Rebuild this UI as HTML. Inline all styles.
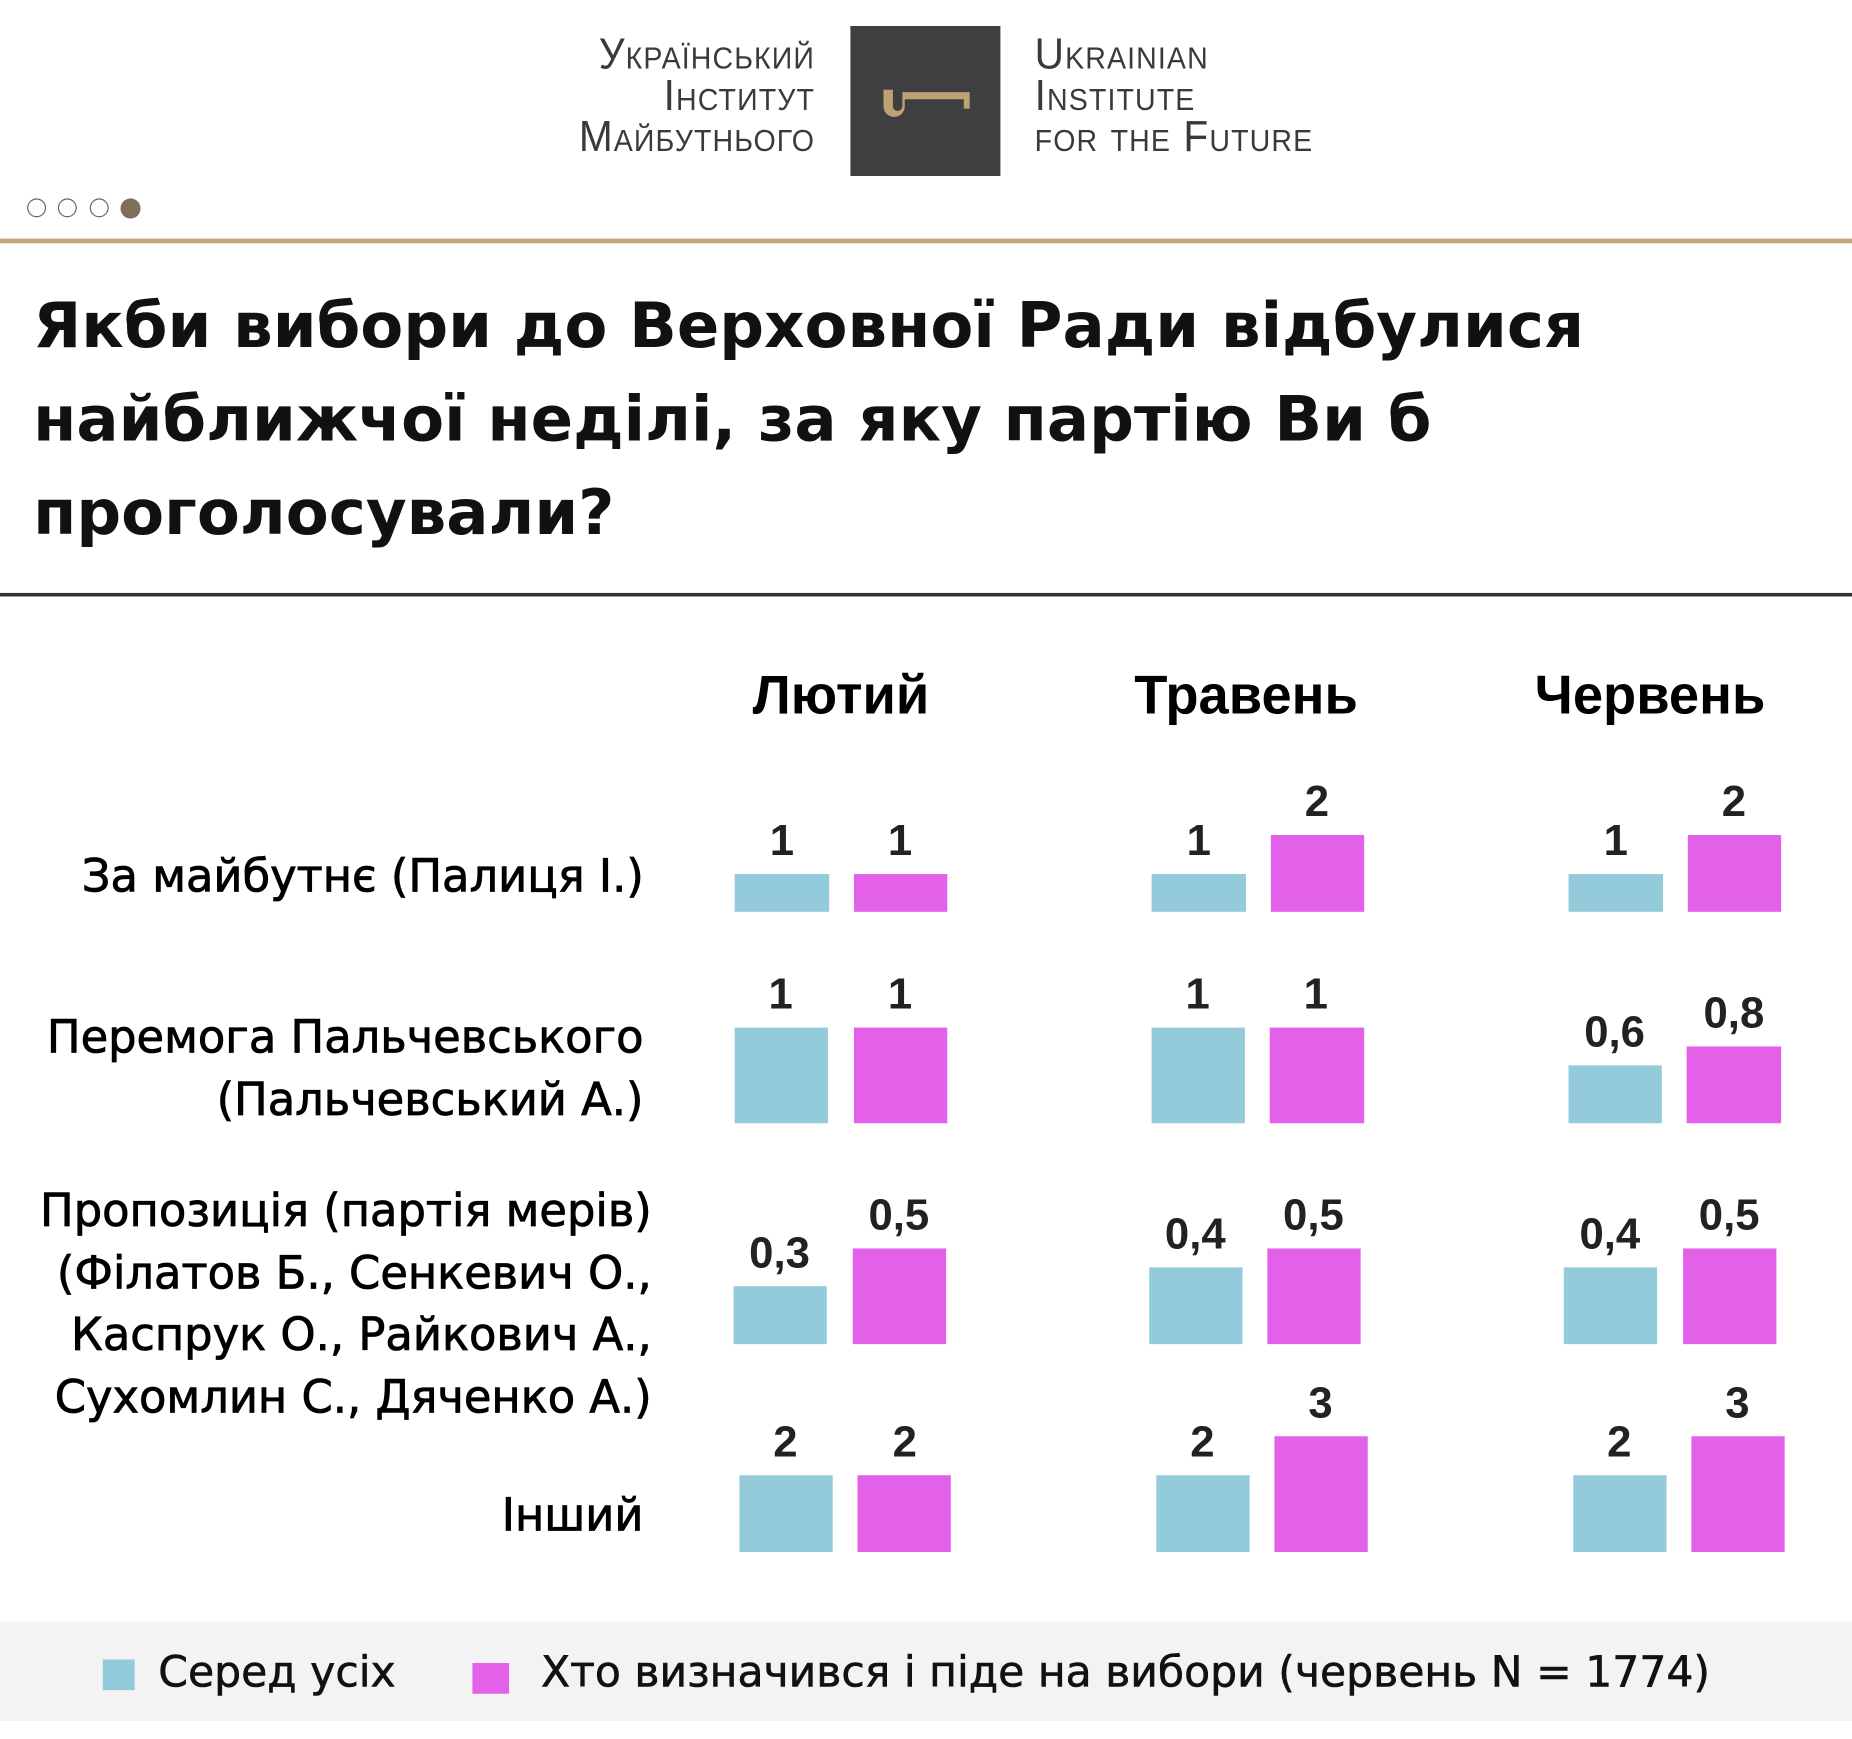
<!DOCTYPE html>
<html><head><meta charset="utf-8"><style>
html,body{margin:0;padding:0;background:#fff;overflow:hidden}
body{width:1852px;height:1739px;position:relative}
#s{position:absolute;left:0;top:0;width:1568px;height:1472px;transform:scale(1.18112);transform-origin:0 0;font-family:"DejaVu Sans","Liberation Sans",sans-serif;color:#111}
.a{position:absolute;white-space:nowrap}
.lg{font-family:"Liberation Sans",sans-serif;font-variant:small-caps;color:#3a3a3a;font-size:37px;line-height:35px;letter-spacing:1px;transform:scaleX(0.93)}
.b{position:absolute}
.bl{background:#94cbdb}.pk{background:#e361e9}
.v{position:absolute;width:100px;text-align:center;font-family:"Liberation Sans",sans-serif;font-weight:bold;font-size:37px;color:#222;line-height:1}
.rl{position:absolute;right:1023px;text-align:right;font-size:38.5px;line-height:52.5px;white-space:nowrap;color:#000;-webkit-text-stroke:0.7px #000;transform:scaleX(0.985);transform-origin:right top}
.hd{position:absolute;width:300px;text-align:center;font-family:"Liberation Sans",sans-serif;font-weight:bold;font-size:46px;top:561px;color:#000}
</style></head><body><div id="s">
<div class="a lg" style="right:878px;top:28px;text-align:right;transform-origin:right top">Український<br>Інститут<br>Майбутнього</div>
<div class="b" style="left:720px;top:22px;width:127px;height:127px;background:#3f3f41"></div>
<svg class="b" style="left:740px;top:70px" width="90" height="34"><path d="M8 6 v14 a9 9 0 0 0 18 0 v-6 h50 v8 h5 v-14 h-57 v12 a3 3 0 0 1 -8 0 v-14z" fill="#bda373"/></svg>
<div class="a lg" style="left:876px;top:28px;transform-origin:left top">Ukrainian<br>Institute<br>for the Future</div>
<div class="b" style="left:23px;top:168px;width:14px;height:14px;border:1.5px solid #666;border-radius:50%"></div>
<div class="b" style="left:49px;top:168px;width:14px;height:14px;border:1.5px solid #666;border-radius:50%"></div>
<div class="b" style="left:76px;top:168px;width:14px;height:14px;border:1.5px solid #666;border-radius:50%"></div>
<div class="b" style="left:102px;top:168px;width:17px;height:17px;background:#7d6f5a;border-radius:50%"></div>
<div class="b" style="left:0;top:202px;width:1568px;height:4px;background:#c2a878"></div>
<div class="a" style="left:28px;top:237px;font-weight:bold;font-size:53px;line-height:79px;color:#111">Якби вибори до Верховної Ради відбулися<br>найближчої неділі, за яку партію Ви б<br>проголосували?</div>
<div class="b" style="left:0;top:502px;width:1568px;height:3px;background:#333"></div>
<div class="hd" style="left:562px">Лютий</div>
<div class="hd" style="left:905px">Травень</div>
<div class="hd" style="left:1247px">Червень</div>
<div class="rl" style="top:717px">За майбутнє (Палиця І.)</div>
<div class="rl" style="top:853px">Перемога Пальчевського<br>(Пальчевський А.)</div>
<div class="rl" style="top:1000px;right:1016px">Пропозиція (партія мерів)<br>(Філатов Б., Сенкевич О.,<br>Каспрук О., Райкович А.,<br>Сухомлин С., Дяченко А.)</div>
<div class="rl" style="top:1258px">Інший</div>
<div class="b bl" style="left:622px;top:740px;width:80px;height:32px"></div><div class="v" style="left:612px;top:693px">1</div>
<div class="b pk" style="left:723px;top:740px;width:79px;height:32px"></div><div class="v" style="left:712px;top:693px">1</div>
<div class="b bl" style="left:975px;top:740px;width:80px;height:32px"></div><div class="v" style="left:965px;top:693px">1</div>
<div class="b pk" style="left:1076px;top:707px;width:79px;height:65px"></div><div class="v" style="left:1065px;top:660px">2</div>
<div class="b bl" style="left:1328px;top:740px;width:80px;height:32px"></div><div class="v" style="left:1318px;top:693px">1</div>
<div class="b pk" style="left:1429px;top:707px;width:79px;height:65px"></div><div class="v" style="left:1418px;top:660px">2</div>
<div class="b bl" style="left:622px;top:870px;width:79px;height:81px"></div><div class="v" style="left:611px;top:823px">1</div>
<div class="b pk" style="left:723px;top:870px;width:79px;height:81px"></div><div class="v" style="left:712px;top:823px">1</div>
<div class="b bl" style="left:975px;top:870px;width:79px;height:81px"></div><div class="v" style="left:964px;top:823px">1</div>
<div class="b pk" style="left:1075px;top:870px;width:80px;height:81px"></div><div class="v" style="left:1064px;top:823px">1</div>
<div class="b bl" style="left:1328px;top:902px;width:79px;height:49px"></div><div class="v" style="left:1317px;top:855px">0,6</div>
<div class="b pk" style="left:1428px;top:886px;width:80px;height:65px"></div><div class="v" style="left:1418px;top:839px">0,8</div>
<div class="b bl" style="left:621px;top:1089px;width:79px;height:49px"></div><div class="v" style="left:610px;top:1042px">0,3</div>
<div class="b pk" style="left:722px;top:1057px;width:79px;height:81px"></div><div class="v" style="left:711px;top:1010px">0,5</div>
<div class="b bl" style="left:973px;top:1073px;width:79px;height:65px"></div><div class="v" style="left:962px;top:1026px">0,4</div>
<div class="b pk" style="left:1073px;top:1057px;width:79px;height:81px"></div><div class="v" style="left:1062px;top:1010px">0,5</div>
<div class="b bl" style="left:1324px;top:1073px;width:79px;height:65px"></div><div class="v" style="left:1313px;top:1026px">0,4</div>
<div class="b pk" style="left:1425px;top:1057px;width:79px;height:81px"></div><div class="v" style="left:1414px;top:1010px">0,5</div>
<div class="b bl" style="left:626px;top:1249px;width:79px;height:65px"></div><div class="v" style="left:615px;top:1202px">2</div>
<div class="b pk" style="left:726px;top:1249px;width:79px;height:65px"></div><div class="v" style="left:716px;top:1202px">2</div>
<div class="b bl" style="left:979px;top:1249px;width:79px;height:65px"></div><div class="v" style="left:968px;top:1202px">2</div>
<div class="b pk" style="left:1079px;top:1216px;width:79px;height:98px"></div><div class="v" style="left:1068px;top:1169px">3</div>
<div class="b bl" style="left:1332px;top:1249px;width:79px;height:65px"></div><div class="v" style="left:1321px;top:1202px">2</div>
<div class="b pk" style="left:1432px;top:1216px;width:79px;height:98px"></div><div class="v" style="left:1421px;top:1169px">3</div>
<div class="b" style="left:0;top:1373px;width:1568px;height:84px;background:#f3f3f3"></div>
<div class="b bl" style="left:87px;top:1405px;width:27px;height:26px"></div>
<div class="a" style="left:134px;top:1393px;font-size:36px;line-height:48px;-webkit-text-stroke:0.5px #111">Серед усіх</div>
<div class="b pk" style="left:400px;top:1408px;width:31px;height:26px"></div>
<div class="a" style="left:458px;top:1393px;font-size:36px;line-height:48px;-webkit-text-stroke:0.5px #111">Хто визначився і піде на вибори (червень N = 1774)</div>
</div></body></html>
